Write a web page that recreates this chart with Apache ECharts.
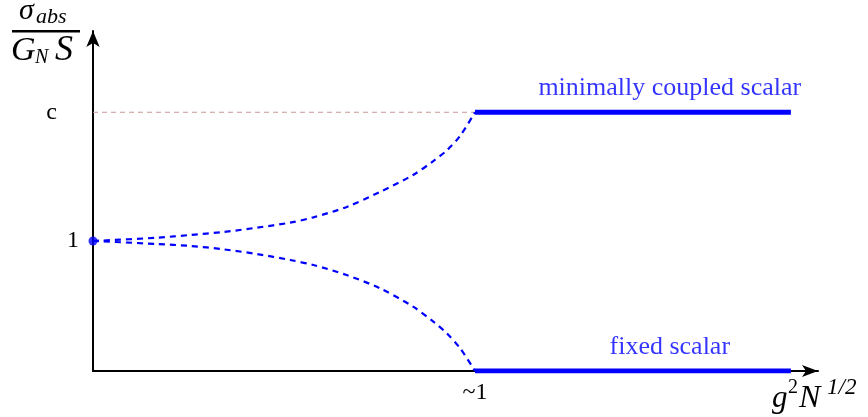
<!DOCTYPE html>
<html>
<head>
<meta charset="utf-8">
<script src="https://cdn.jsdelivr.net/npm/echarts@6/dist/echarts.min.js"></script>
<style>
  html, body { margin: 0; padding: 0; background: #fff; }
  #main { width: 868px; height: 417px; }
</style>
</head>
<body>
<div id="main"></div>
<script>
// data
var C = 1.99;                     // the "c" level
var curveX = [0, 0.167, 0.254, 0.341, 0.428, 0.516, 0.577, 0.664, 0.751, 0.838, 0.891, 0.926, 0.961, 1.0];
var upperY = [1, 1.025, 1.046, 1.069, 1.102, 1.141, 1.182, 1.262, 1.377, 1.508, 1.615, 1.696, 1.808, C];
var lowerY = [1, 0.977, 0.962, 0.936, 0.900, 0.854, 0.815, 0.738, 0.636, 0.495, 0.379, 0.290, 0.175, 0];
var plateauX = [1, 1.827];
var yTickValues = [1, C];
var yTickLabels = ['1', 'c'];
var xTickValues = [1];
var xTickLabels = ['~1'];
var seriesNames = ['minimally coupled scalar', 'fixed scalar'];
var labelX = 1.51;

var serif = '"Liberation Serif", "DejaVu Serif", serif';
var blue = '#0000ff';

function pairs(xs, ys) {
    var out = [];
    for (var i = 0; i < xs.length; i++) out.push([xs[i], ys[i]]);
    return out;
}

var myChart = echarts.init(document.getElementById('main'));

var option = {
    animation: false,
    grid: { left: 93, right: 50, top: 31, bottom: 46 },
    xAxis: {
        type: 'value',
        min: 0,
        max: 1.898,
        splitLine: { show: false },
        axisTick: { show: false },
        axisLine: {
            lineStyle: { color: '#000', width: 2 },
            symbol: ['none', 'arrow'],
            symbolSize: [9, 16]
        },
        axisLabel: {
            customValues: xTickValues,
            formatter: function (v) {
                return xTickLabels[xTickValues.indexOf(v)];
            },
            color: '#000',
            fontFamily: serif,
            fontSize: 24,
            margin: 10
        }
    },
    yAxis: {
        type: 'value',
        min: 0,
        max: 2.615,
        splitLine: { show: false },
        axisTick: { show: false },
        axisLine: {
            lineStyle: { color: '#000', width: 2 },
            symbol: ['none', 'arrow'],
            symbolSize: [10, 16]
        },
        axisLabel: {
            customValues: yTickValues,
            formatter: function (v) {
                var t = yTickLabels[yTickValues.indexOf(v)];
                return t === 'c' ? '{c|c}' : '{n|' + t + '}';
            },
            rich: {
                c: { fontFamily: serif, fontSize: 24, color: '#000', padding: [0, 22, 0, 0] },
                n: { fontFamily: serif, fontSize: 24, color: '#000' }
            },
            margin: 14
        }
    },
    series: [
        {
            // thin dashed guide at c
            type: 'line',
            data: pairs([0, 1], [C, C]),
            symbol: 'none',
            lineStyle: { color: '#c99595', width: 1, type: [5, 4] },
            z: 1
        },
        {
            type: 'line',
            data: pairs(curveX, upperY),
            smooth: 0.3,
            symbol: 'none',
            lineStyle: { color: blue, width: 2.2, type: [6, 5] }
        },
        {
            type: 'line',
            data: pairs(curveX, lowerY),
            smooth: 0.3,
            symbol: 'none',
            lineStyle: { color: blue, width: 2.2, type: [6, 5] }
        },
        {
            type: 'line',
            data: pairs(plateauX, [C, C]),
            symbol: 'none',
            lineStyle: { color: blue, width: 5 }
        },
        {
            type: 'line',
            data: pairs(plateauX, [0, 0]),
            symbol: 'none',
            lineStyle: { color: blue, width: 5 },
            z: 5
        },
        {
            // starting point
            type: 'scatter',
            data: [[0, 1]],
            symbolSize: 9,
            itemStyle: { color: blue },
            z: 6
        },
        {
            // series names above the plateaus
            type: 'scatter',
            data: [[labelX, C, seriesNames[0]], [labelX, 0, seriesNames[1]]],
            symbolSize: 0,
            label: {
                show: true,
                position: 'top',
                distance: 11,
                formatter: function (p) { return p.data[2]; },
                color: blue,
                fontFamily: serif,
                fontSize: 26
            },
            silent: true
        }
    ],
    graphic: [
        // y axis name: sigma_abs / (G_N S)
        { type: 'text', left: 19, top: -4, style: { text: 'σ', font: 'italic 30px ' + serif, fill: '#000' } },
        { type: 'text', left: 36, top: 6, style: { text: 'abs', font: 'italic 22px ' + serif, fill: '#000' } },
        { type: 'rect', shape: { x: 12, y: 30, width: 68, height: 2.5 }, style: { fill: '#000' } },
        { type: 'text', left: 11, top: 34, style: { text: 'G', font: 'italic 34px ' + serif, fill: '#000' } },
        { type: 'text', left: 35, top: 48, style: { text: 'N', font: 'italic 20px ' + serif, fill: '#000' } },
        { type: 'text', left: 55, top: 33, style: { text: 'S', font: 'italic 36px ' + serif, fill: '#000' } },
        // x axis name: g^2 N^(1/2)
        { type: 'text', left: 772, top: 383, style: { text: 'g', font: 'italic 31px ' + serif, fill: '#000' } },
        { type: 'text', left: 788, top: 378, style: { text: '2', font: '20px ' + serif, fill: '#000' } },
        { type: 'text', left: 799, top: 383, style: { text: 'N', font: 'italic 32px ' + serif, fill: '#000' } },
        { type: 'text', left: 827, top: 376, style: { text: '1/2', font: 'italic 23px ' + serif, fill: '#000' } }
    ]
};

myChart.setOption(option);
</script>
</body>
</html>
